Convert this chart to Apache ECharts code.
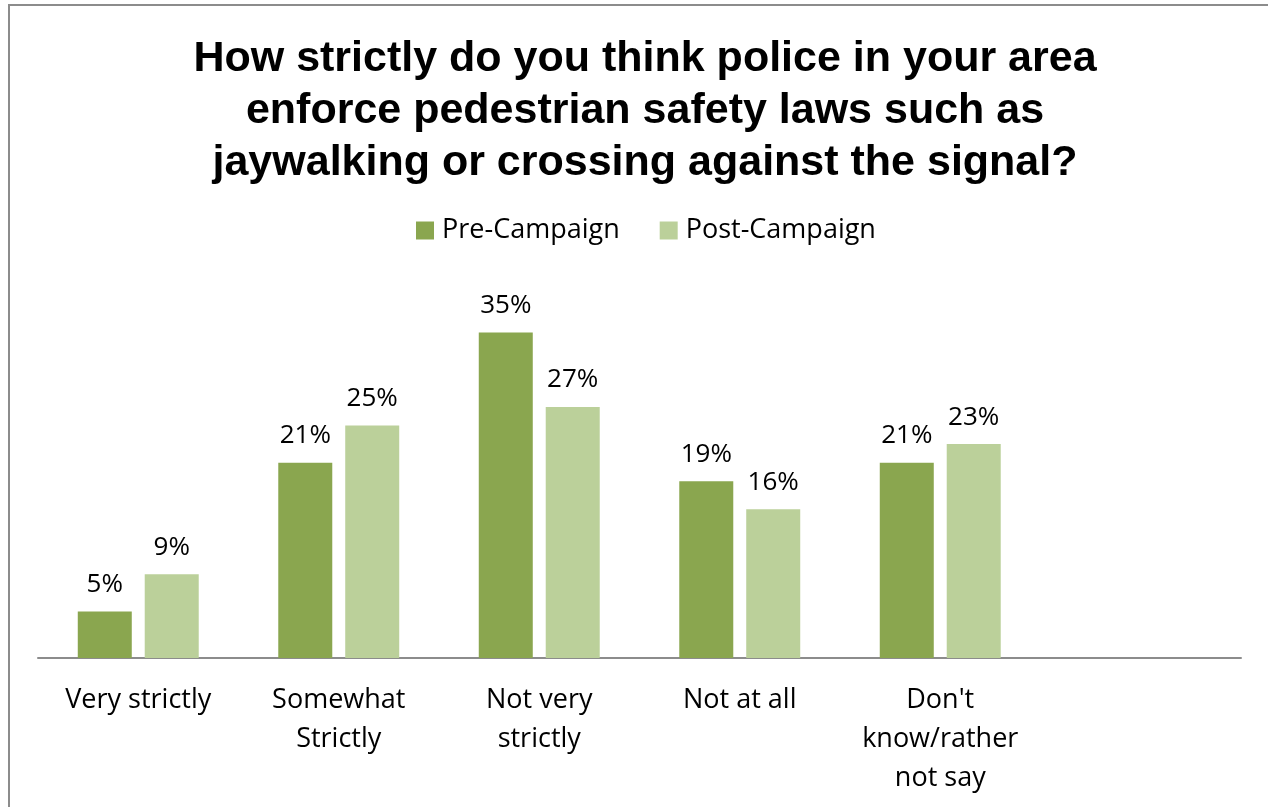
<!DOCTYPE html>
<html><head><meta charset="utf-8">
<script src="https://cdn.jsdelivr.net/npm/echarts@6/dist/echarts.min.js"></script>
<style>html,body{margin:0;padding:0;background:#fff}#c{width:1268px;height:807px}</style>
</head><body><div id="c"></div>
<script>
const categories = ['Very strictly', 'Somewhat\nStrictly', 'Not very\nstrictly', 'Not at all', "Don't\nknow/rather\nnot say", ''];
const preCampaign = [5, 21, 35, 19, 21, null];
const postCampaign = [9, 25, 27, 16, 23, null];
const seriesNames = ['Pre-Campaign', 'Post-Campaign'];
const titleText = 'How strictly do you think police in your area\nenforce pedestrian safety laws such as\njaywalking or crossing against the signal?';

const chart = echarts.init(document.getElementById('c'), null, {renderer: 'canvas'});
const labelFont = 'Open Sans';
chart.setOption({
  animation: false,
  backgroundColor: '#fff',
  graphic: [{
    type: 'rect', shape: {x: 9, y: 5, width: 1300, height: 900},
    style: {fill: 'none', stroke: '#8c8c8c', lineWidth: 2}, silent: true
  }],
  title: {
    text: titleText, left: 640, top: 28, textAlign: 'center',
    textStyle: {fontFamily: 'Liberation Sans', fontWeight: 'bold', fontSize: 43, lineHeight: 52, color: '#000'}
  },
  legend: {
    left: 411, top: 212, itemWidth: 18, itemHeight: 18, itemGap: 40,
    icon: 'rect',
    textStyle: {fontFamily: labelFont, fontSize: 27, color: '#000', padding: [0, 0, 0, 3]},
    data: seriesNames
  },
  grid: {left: 38, right: 27, top: 286, bottom: 149, containLabel: false},
  xAxis: {
    type: 'category', data: categories,
    axisLine: {lineStyle: {color: '#8c8c8c', width: 2}},
    axisTick: {show: false},
    axisLabel: {interval: 0, fontFamily: labelFont, fontSize: 27, lineHeight: 39, color: '#000', margin: 23}
  },
  yAxis: {type: 'value', min: 0, max: 40, show: false, splitLine: {show: false}},
  series: [
    {name: seriesNames[0], type: 'bar', data: preCampaign, barWidth: 54, barGap: '24%',
     itemStyle: {color: '#8aa64f'},
     label: {show: true, position: 'top', distance: 14, formatter: '{c}%', fontFamily: labelFont, fontSize: 26, color: '#000'}},
    {name: seriesNames[1], type: 'bar', data: postCampaign, barWidth: 54,
     itemStyle: {color: '#bbd09a'},
     label: {show: true, position: 'top', distance: 14, formatter: '{c}%', fontFamily: labelFont, fontSize: 26, color: '#000'}}
  ]
});
</script></body></html>
